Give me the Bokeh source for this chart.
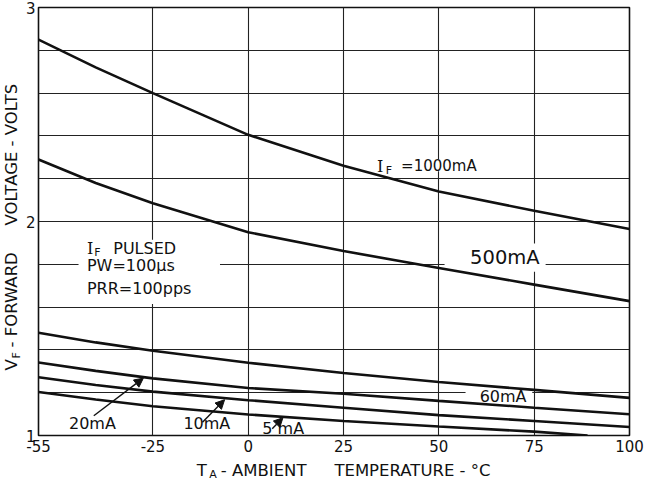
import math
from bokeh.plotting import figure
from bokeh.layouts import row, column
from bokeh.models import FixedTicker, Label, Arrow, NormalHead, Range1d
from bokeh.embed import file_html
from bokeh.resources import INLINE

# ---- data ----
temps = [-55, -40, -25, 0, 25, 50, 75, 100]
vf_1000mA = [2.85, 2.72, 2.60, 2.405, 2.26, 2.14, 2.05, 1.965]
vf_500mA = [2.29, 2.18, 2.085, 1.95, 1.862, 1.783, 1.705, 1.628]
vf_60mA = [1.48, 1.435, 1.396, 1.34, 1.292, 1.25, 1.213, 1.176]
vf_20mA = [1.341, 1.302, 1.267, 1.222, 1.195, 1.162, 1.13, 1.099]
vf_10mA = [1.272, 1.236, 1.205, 1.165, 1.13, 1.095, 1.068, 1.04]
temps_5mA = [-55, -40, -25, 0, 25, 50, 75, 89]
vf_5mA = [1.203, 1.168, 1.137, 1.098, 1.068, 1.042, 1.018, 1.0]

x_ticks = [-55, -25, 0, 25, 50, 75, 100]
x_tick_labels = ["-55", "-25", "0", "25", "50", "75", "100"]
y_ticks = [1, 2, 3]
y_tick_labels = ["1", "2", "3"]
x_grid = [-25, 0, 25, 50, 75]
y_grid = [1.2, 1.4, 1.6, 1.8, 2.0, 2.2, 2.4, 2.6, 2.8]

FONT = "DejaVu Sans"
INK = "#111111"

x_range = Range1d(-55, 100)
y_range = Range1d(1, 3)

# ---------------- main chart ----------------
p = figure(width=624, height=457, x_range=x_range, y_range=y_range,
           output_backend="svg", toolbar_location=None,
           min_border_left=13, min_border_right=17, min_border_top=7, min_border_bottom=22)
p.background_fill_color = "white"
p.border_fill_color = "white"
p.outline_line_color = INK
p.outline_line_width = 1.6

p.xaxis.ticker = FixedTicker(ticks=x_ticks)
p.xaxis.major_label_overrides = {t: l for t, l in zip(x_ticks, x_tick_labels)}
p.yaxis.ticker = FixedTicker(ticks=y_ticks)
p.yaxis.major_label_overrides = {t: l for t, l in zip(y_ticks, y_tick_labels)}
for ax in (p.xaxis, p.yaxis):
    ax.axis_line_color = None
    ax.major_tick_line_color = None
    ax.minor_tick_line_color = None
    ax.major_tick_out = 0
    ax.major_tick_in = 0
    ax.major_label_text_font = FONT
    ax.major_label_text_font_size = "15px"
    ax.major_label_text_color = INK
p.xaxis.major_label_standoff = 4
p.yaxis.major_label_standoff = 3

p.xgrid.ticker = FixedTicker(ticks=x_grid)
p.ygrid.ticker = FixedTicker(ticks=y_grid)
for g in (p.xgrid, p.ygrid):
    g.grid_line_color = "#222222"
    g.grid_line_width = 1.1
    g.grid_line_alpha = 1.0

# white boxes behind the annotations (gaps in the grid)
box_left = [-44.5, 51.5, 57.0, 33.5]
box_right = [-7.4, 78.0, 74.5, 60.5]
box_bottom = [1.615, 1.765, 1.16, 2.235]
box_top = [1.915, 1.897, 1.205, 2.29]
p.quad(left=box_left, right=box_right, bottom=box_bottom, top=box_top,
       fill_color="white", line_color=None)

# curves
for ys in (vf_1000mA, vf_500mA, vf_60mA, vf_20mA, vf_10mA):
    p.line(temps, ys, line_color=INK, line_width=2.6)
p.line(temps_5mA, vf_5mA, line_color=INK, line_width=2.6)


def lab(fig, x, y, text, size="16px", font=FONT, align="left", baseline="middle", **kw):
    fig.add_layout(Label(x=x, y=y, text=text, text_font=font, text_font_size=size,
                         text_color=INK, text_align=align, text_baseline=baseline, **kw))


# curve labels
lab(p, 33.8, 2.259, "I", "16px", font="DejaVu Serif")
lab(p, 36.1, 2.238, "F", "11px")
lab(p, 40.1, 2.259, "=1000mA", "15px")
lab(p, 58.2, 1.83, "500mA", "19.5px")
lab(p, 60.7, 1.18, "60mA", "16px")
lab(p, -47.0, 1.057, "20mA", "16px")
lab(p, -17.0, 1.055, "10mA", "16px")
lab(p, 3.7, 1.033, "5 mA", "16px")

# test-condition note
lab(p, -42.3, 1.874, "I", "16px", font="DejaVu Serif")
lab(p, -40.4, 1.853, "F", "11px")
lab(p, -35.4, 1.874, "PULSED", "16px")
lab(p, -42.3, 1.794, "PW=100\u03bcs", "16px")
lab(p, -42.3, 1.686, "PRR=100pps", "16px")

# arrows pointing from labels to curves
arrow_x0 = [-40.5, -12.0, 6.3]
arrow_y0 = [1.092, 1.062, 1.032]
arrow_x1 = [-27.5, -6.2, 9.1]
arrow_y1 = [1.268, 1.167, 1.083]
for x0, y0, x1, y1 in zip(arrow_x0, arrow_y0, arrow_x1, arrow_y1):
    p.add_layout(Arrow(end=NormalHead(size=9, fill_color=INK, line_color=INK),
                       x_start=x0, y_start=y0, x_end=x1, y_end=y1,
                       line_color=INK, line_width=1.4))

# ---------------- x-axis title strip (shares the x scale) ----------------
px = figure(width=624, height=25, x_range=x_range, y_range=Range1d(0, 25),
            output_backend="svg", toolbar_location=None,
            x_axis_location=None, y_axis_location=None,
            min_border_left=13, min_border_right=17, min_border_top=0, min_border_bottom=0)
px.grid.visible = False
px.outline_line_color = None
px.background_fill_color = "white"
px.border_fill_color = "white"
lab(px, -13.5, 12.5, "T", "16.5px")
lab(px, -10.2, 8.5, "A", "11px")
lab(px, -7.2, 12.5, "- AMBIENT", "16.5px")
lab(px, 22.6, 12.5, "TEMPERATURE - \u00b0C", "16.5px")

# ---------------- y-axis title strip (shares the y scale) ----------------
py = figure(width=22, height=482, x_range=Range1d(0, 22), y_range=y_range,
            output_backend="svg", toolbar_location=None,
            x_axis_location=None, y_axis_location=None,
            min_border_left=0, min_border_right=0, min_border_top=7, min_border_bottom=47)
py.grid.visible = False
py.outline_line_color = None
py.background_fill_color = "white"
py.border_fill_color = "white"
rot = math.pi / 2
lab(py, 11, 1.304, "V", "16.5px", angle=rot)
lab(py, 15.5, 1.36, "F", "11px", angle=rot)
lab(py, 11, 1.411, "- FORWARD", "16.5px", angle=rot)
lab(py, 11, 1.981, "VOLTAGE - VOLTS", "16.5px", angle=rot)

layout = row(py, column(p, px, spacing=0), spacing=0)

open("out.html", "w").write(file_html(layout, INLINE))
